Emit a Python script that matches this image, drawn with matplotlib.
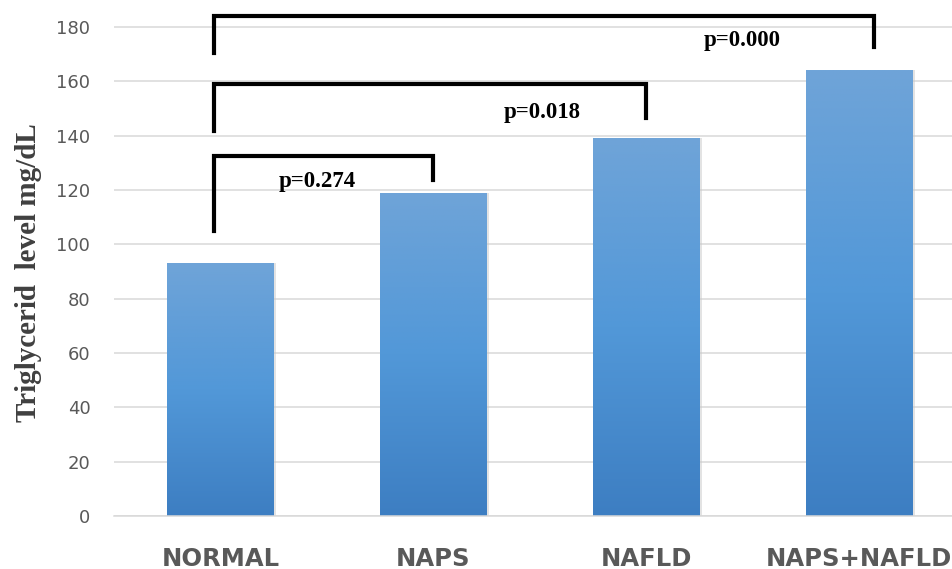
import matplotlib
matplotlib.use('Agg')
import matplotlib.pyplot as plt
import numpy as np
from matplotlib.colors import LinearSegmentedColormap

groups = ['NORMAL', 'NAPS', 'NAFLD', 'NAPS+NAFLD']
values = [93, 119, 139, 164]

# significance brackets: (left x, right x, left leg bottom, top, right leg bottom)
brackets = [(-0.03, 1.0, 105, 132.5, 123.7),
            (-0.03, 2.0, 141.7, 159, 146.5),
            (-0.03, 3.07, 170.4, 184, 172.6)]
p_labels = ['p=0.274', 'p=0.018', 'p=0.000']
p_pos = [(0.455, 123), (1.51, 148.7), (2.45, 175.2)]

fig = plt.figure(figsize=(9.53, 5.69), dpi=100)
ax = fig.add_axes([0.1196, 0.0931, 0.8804, 0.8833])

x = np.arange(len(groups))
bars = ax.bar(x, values, width=0.5, color='none', edgecolor='none', zorder=2)

# vertical gradient fill for each bar
cmap = LinearSegmentedColormap.from_list('bluegrad', ['#3d7ec2', '#5298d8', '#6fa4d8'])
grad = np.linspace(0, 1, 256).reshape(-1, 1)
for b in bars:
    x0, y0 = b.get_x(), b.get_y()
    w, h = b.get_width(), b.get_height()
    # soft shadow
    ax.bar(x0 + w / 2 + 0.012, h, width=w, bottom=y0, color='#c8c8c8', alpha=0.5, zorder=1.5)
    im = ax.imshow(grad, extent=[x0, x0 + w, y0, y0 + h], origin='lower',
                   cmap=cmap, aspect='auto', zorder=2)
    im.set_clip_path(b)

ax.set_xlim(-0.5, 3.44)
ax.set_ylim(0, 185)
ax.set_yticks(np.arange(0, 181, 20))
ax.set_xticks(x)
ax.set_xticklabels(groups, fontsize=17.5, fontweight='bold', color='#595959')
ax.tick_params(axis='y', length=0, pad=17, labelsize=13, labelcolor='#595959')
ax.tick_params(axis='x', length=0, pad=22)
ax.grid(axis='y', color='#d9d9d9', lw=1.1, zorder=0)
ax.set_axisbelow(True)
for s in ['top', 'right', 'left']:
    ax.spines[s].set_visible(False)
ax.spines['bottom'].set_color('#d9d9d9')
ax.spines['bottom'].set_linewidth(1.1)

ax.set_ylabel('Triglycerid  level mg/dL', fontsize=21, fontweight='bold',
              family='Liberation Serif', color='#404040')
ax.yaxis.set_label_coords(-0.086, 0.485)

for (xl, xr, yl, yt, yr) in brackets:
    ax.plot([xl, xl, xr, xr], [yl, yt, yt, yr], color='black', lw=3,
            solid_joinstyle='miter', clip_on=False, zorder=3)
for lab, (px, py) in zip(p_labels, p_pos):
    ax.text(px, py, lab, ha='center', va='center', fontsize=16.5, fontweight='bold',
            family='Liberation Serif', color='black', zorder=4)

fig.savefig('out.png', dpi=100)
